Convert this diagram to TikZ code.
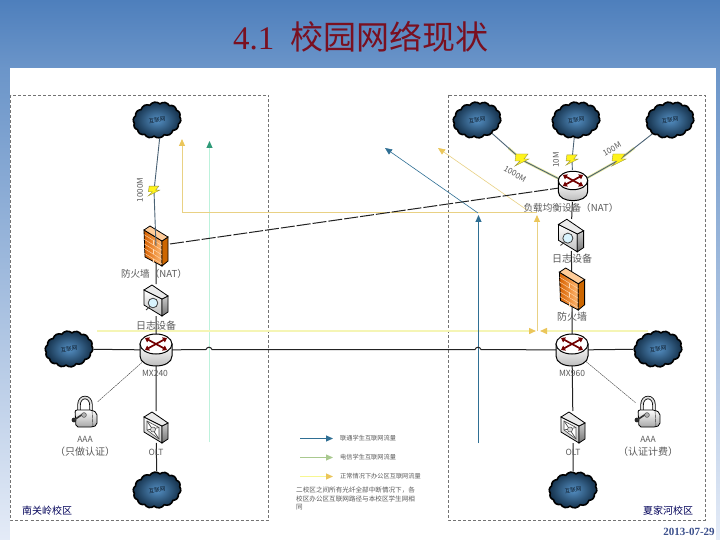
\documentclass[tikz,border=0pt]{standalone}
\usepackage{fontspec}
\newfontfamily\cjk{Noto Sans CJK SC}
\newfontfamily\cjkserif{Liberation Serif}
\usetikzlibrary{shapes.symbols,arrows.meta,calc}
\pgfdeclarelayer{bg}
\pgfsetlayers{bg,main}
\definecolor{lineblue}{HTML}{2F6F94}
\definecolor{linegold}{HTML}{E9D184}
\definecolor{arrowgold}{HTML}{EBC65A}
\definecolor{palemint}{HTML}{BDF2DC}
\definecolor{arrowgreen}{HTML}{2F9A78}
\definecolor{paleyellow}{HTML}{F5F5B5}
\definecolor{labelgray}{HTML}{5A5A5A}
\definecolor{wire}{HTML}{222222}
\definecolor{cloudin}{HTML}{5590C4}
\definecolor{cloudout}{HTML}{14304A}
\definecolor{cloudtext}{HTML}{0C1A28}
\definecolor{slidetop}{HTML}{4E7FBC}
\definecolor{slidemid}{HTML}{6B95C9}
\definecolor{slidelow}{HTML}{E4EBF7}
\definecolor{titlered}{HTML}{7A1020}
\definecolor{datecol}{HTML}{3C508C}
\definecolor{radiocol}{HTML}{4A6275}
\definecolor{glowcol}{HTML}{E8E89A}
\definecolor{legendgreen}{HTML}{A9C98F}
\tikzset{
  x=1pt,y=-1pt,
  iconbox/.style={inner sep=0pt,outer sep=0pt,minimum width=28pt,minimum height=32pt},
  netcloud/.style={shape=cloud,cloud puffs=14,cloud puff arc=100,aspect=1.5,draw=black,line width=1.6pt,
    inner sep=0pt,minimum width=48pt,minimum height=36pt,rotate=8,
    inner color=cloudin,outer color=cloudout,text=cloudtext,font=\cjk\fontsize{5.5}{6}\selectfont},
  lbl/.style={inner sep=0pt,text=labelgray,font=\cjk\fontsize{10}{12}\selectfont},
  smalllbl/.style={inner sep=0pt,text=labelgray,font=\cjk\fontsize{8.5}{10}\selectfont},
  linklbl/.style={inner sep=0pt,text=labelgray,font=\cjk\fontsize{8}{10}\selectfont},
  legendlbl/.style={inner sep=0pt,anchor=west,text=labelgray,font=\cjk\fontsize{6.2}{8}\selectfont},
  campus/.style={inner sep=0pt,text=blue!35!black,font=\cjk\fontsize{10}{12}\selectfont},
  wireline/.style={draw=wire,line width=1pt},
  thinwire/.style={draw=black!75,line width=0.4pt,dash pattern=on 2pt off 0.6pt},
  radiolink/.style={draw=radiocol,line width=0.9pt},
  radioglow/.style={draw=glowcol,line width=2.4pt},
  wantip/.style={wireline,dash pattern=on 14pt off 2pt},
  flowblue/.style={draw=lineblue,line width=0.9pt,-{Triangle[length=7pt,width=6pt]}},
  flowgold/.style={draw=linegold,line width=1pt,-{Triangle[length=7pt,width=6pt,color=arrowgold]}},
  flowmint/.style={draw=palemint,line width=1pt,-{Triangle[length=7pt,width=6pt,color=arrowgreen]}},
  flowpale/.style={draw=paleyellow,line width=1.4pt,-{Triangle[length=7pt,width=6pt,color=arrowgold]}},
  campusbox/.style={draw=black!55,line width=0.4pt,densely dashed},
}
\newcommand{\routericon}[4]{%
  \node[iconbox] (#1) at (#2,#3) {};
  \begin{scope}[shift={(#2,#3)},scale=#4]
    \path[draw=black,line width=1pt,top color=white,bottom color=black!30]
      (-16,-6) -- (-16,6) .. controls (-16,19.3) and (16,19.3) .. (16,6) -- (16,-6) -- cycle;
    \path[draw=black,line width=1pt,fill=white] (0,-6) ellipse (16 and 10);
    \foreach \ex/\ey in {-11/-12,11/-12,-11/0,11/0}
      \draw[draw=red!45!black,line width=1.7pt,-{Triangle[length=4pt,width=5.5pt]}] (0,-6) -- (\ex,\ey);
  \end{scope}}
\newcommand{\wallicon}[4]{%
  \node[iconbox] (#1) at (#2,#3) {};
  \begin{scope}[shift={(#2,#3)},scale=#4]
    \path[draw=black,line width=0.8pt,left color=orange!90!red!85!black,right color=orange!55!white]
      (-12,-16) -- (6,-5) -- (6,20) -- (-11,11) -- cycle;
    \path[draw=black,line width=0.8pt,fill=orange!80!black] (6,-5) -- (12,-9) -- (12,15) -- (6,20) -- cycle;
    \path[draw=black,line width=0.8pt,fill=orange!40!white] (-12,-16) -- (-6,-20) -- (12,-9) -- (6,-5) -- cycle;
    \foreach \k in {1,...,5}
      \draw[orange!30!white,line width=0.4pt] (-12,{-16+\k*4.6}) -- (6,{-5+\k*4.6});
    \foreach \k in {1,3,5}
      \draw[orange!30!white,line width=0.4pt] (-3,{-10.5+\k*4.6}) -- (-3,{-6+\k*4.6});
  \end{scope}}
\newcommand{\boxbody}{%
    \path[draw=black,line width=0.8pt,top color=white,bottom color=black!25] (-12,-10) -- (6,-1) -- (6,16) -- (-12,5) -- cycle;
    \path[draw=black,line width=0.8pt,top color=black!20,bottom color=black!55] (6,-1) -- (12,-4) -- (12,12) -- (6,16) -- cycle;
    \path[draw=black,line width=0.8pt,fill=black!8] (-12,-10) -- (-4,-15) -- (12,-4) -- (6,-1) -- cycle;}
\newcommand{\logicon}[4]{%
  \node[iconbox] (#1) at (#2,#3) {};
  \begin{scope}[shift={(#2,#3)},scale=#4]
    \boxbody
    \path[draw=black!75,line width=0.8pt,fill=cyan!15] (-3,3) circle (4.8);
    \draw[black!75,line width=0.9pt] (-6.5,7) -- (-10,10);
  \end{scope}}
\newcommand{\olticon}[4]{%
  \node[iconbox] (#1) at (#2,#3) {};
  \begin{scope}[shift={(#2,#3)},scale=#4]
    \boxbody
    \path[draw=black!70,line width=0.6pt,fill=white] (-9,-6) -- (3,0.5) -- (3,12) -- (-9,3) -- cycle;
    \draw[black!70,line width=0.7pt] (-9,-6) -- (3,12) (3,0.5) -- (-9,3);
    \path[draw=black!70,line width=0.5pt,fill=black!15] (-3,2.5) circle (2.5);
  \end{scope}}
\newcommand{\lockicon}[3]{%
  \node[iconbox,minimum width=25pt] (#1) at (#2,#3) {};
  \begin{scope}[shift={(#2,#3)}]
    \draw[black,line width=3.4pt] (-6,-1) -- (-6,-8) .. controls (-6,-18) and (6,-18) .. (6,-8) -- (6,-1);
    \draw[black!12,line width=1.8pt] (-6,-1) -- (-6,-8) .. controls (-6,-18) and (6,-18) .. (6,-8) -- (6,-1);
    \path[draw=black,line width=0.8pt,top color=white,bottom color=black!35,rounded corners=2pt]
      (-10,-3) -- (7,-3) -- (12,0) -- (12,12) -- (8,14) -- (-9,14) -- cycle;
    \draw[black!80,line width=0.4pt] (7,-3) -- (8,14);
    \path[fill=black!85] (-11,7) circle (2.4);
    \draw[black!80,line width=1.6pt] (-11,7) -- (-2,1);
    \path[draw=black!70,line width=0.5pt,fill=black!30] (-1,2) circle (2.4);
  \end{scope}}
\newcommand{\bolticon}[4]{%
  \coordinate (#1) at (#2,#3);
  \begin{scope}[shift={(#2,#3)},scale=#4]
    \path[draw=yellow!55!black,line width=0.4pt,fill=yellow!90!white]
      (-6,-6) -- (6,-6) -- (2,-1) -- (7,-1) -- (-7,6) -- (-2,1) -- (-7,1) -- cycle;
  \end{scope}}
\begin{document}
\begin{tikzpicture}
\useasboundingbox (0,0) rectangle (720,540);
% devices and clouds
\node[netcloud] (cTop) at (157,120) {互联网};
\node[netcloud] (cWest) at (69,349) {互联网};
\node[netcloud] (cSouthW) at (157,490) {互联网};
\node[netcloud] (cA) at (477,120) {互联网};
\node[netcloud] (cB) at (576,120) {互联网};
\node[netcloud] (cC) at (670,120) {互联网};
\node[netcloud] (cEast) at (658,349) {互联网};
\node[netcloud] (cSouthE) at (573,490) {互联网};
\wallicon{fwL}{156}{246}{1}
\logicon{logL}{156}{300}{1}
\routericon{rL}{156}{350}{1}
\olticon{oltL}{156}{427}{1}
\lockicon{aaaL}{85}{413}
\routericon{rLB}{573}{186}{0.92}
\logicon{logR}{571}{235}{1.05}
\wallicon{fwR}{572}{289}{1.05}
\routericon{rR}{572}{350}{1}
\olticon{oltR}{573}{427}{1}
\lockicon{aaaR}{648}{413}
\bolticon{bA}{522}{160}{1}
\bolticon{bB}{572}{160}{0.85}
\bolticon{bC}{619}{160}{1}
\coordinate (goldA) at (182,213);
\coordinate (goldCorner) at (537,213);
\coordinate (goldTip) at (182,139);
\coordinate (goldDiagA) at (527,210);
\coordinate (goldDiagTip) at (438,148);
\coordinate (goldUpFoot) at (537,331);
\coordinate (goldUpTip) at (537,215);
\coordinate (mintFoot) at (209.5,442);
\coordinate (mintTip) at (209.5,141);
\coordinate (blueFoot) at (478.5,443);
\coordinate (blueTip) at (478.5,215);
\coordinate (blueDiagA) at (478,213);
\coordinate (blueDiagTip) at (385,148);
\coordinate (paleL) at (97,331);
\coordinate (paleR) at (648,331);
\coordinate (paleTipL) at (536,331);
\coordinate (paleTipR) at (540,331);
\coordinate (legA1) at (300,438.5);\coordinate (legA2) at (333,438.5);
\coordinate (legB1) at (300,457.5);\coordinate (legB2) at (333,457.5);
\coordinate (legC1) at (300,476.5);\coordinate (legC2) at (333,476.5);
\begin{pgfonlayer}{bg}
  % slide background
  \path[top color=slidemid,bottom color=slidelow] (0,68) rectangle (720,540);
  \path[top color=slidetop,bottom color=slidemid] (0,0) rectangle (720,68);
  \path[fill=white] (10,68) rectangle (716,540);
  \path[campusbox] (10.5,95) rectangle (268,520);
  \path[campusbox] (448,95) rectangle (705,520);
  % traffic flows
  \draw[flowmint] (mintFoot) -- (mintTip);
  \draw[flowpale] (paleL) -- (paleTipL);
  \draw[flowpale] (paleR) -- (paleTipR);
  \draw[flowgold] (goldA) -- (goldTip);
  \draw[draw=linegold,line width=1pt] (goldA) -- (goldCorner);
  \draw[flowgold] (goldUpFoot) -- (goldUpTip);
  \draw[flowgold,line width=0.6pt] (goldDiagA) -- (goldDiagTip);
  \draw[flowblue] (blueFoot) -- (blueTip);
  \draw[flowblue,line width=0.6pt] (blueDiagA) -- (blueDiagTip);
  % legend
  \draw[flowblue] (legA1) -- (legA2);
  \draw[draw=legendgreen,line width=0.8pt,-{Triangle[length=7pt,width=6pt]}] (legB1) -- (legB2);
  \draw[draw=paleyellow!80!yellow,line width=1pt,-{Triangle[length=7pt,width=6pt,color=arrowgold]}] (legC1) -- (legC2);
  % wired links
  \draw[wireline] (fwL) -- (logL) -- (rL) -- (oltL) -- (cSouthW);
  \draw[wireline] (cWest) -- (rL);
  \draw[wireline] (rL) -- (206,349.5) .. controls (207,346.5) and (211,346.5) .. (212,349.5) -- (475,349.5) .. controls (476,346.5) and (480,346.5) .. (481,349.5) -- (rR);
  \draw[wantip] (fwL) -- (rLB);
  \draw[wireline] (rLB) -- (logR) -- (fwR) -- (rR) -- (oltR) -- (cSouthE);
  \draw[wireline] (rR) -- (cEast);
  \draw[thinwire] (rL) -- (aaaL);
  \draw[thinwire] (rR) -- (aaaR);
  % radio links
  \draw[radioglow] ($(cA)!0.7!(bA)$) -- (bA) -- ($(bA)!0.75!(rLB)$);
  \draw[radioglow] ($(cC)!0.7!(bC)$) -- (bC) -- ($(bC)!0.75!(rLB)$);
  \draw[radiolink] (cA) -- (bA) -- (rLB);
  \draw[radiolink] (cB) -- (bB) -- (rLB);
  \draw[radiolink] (cC) -- (bC) -- (rLB);
\end{pgfonlayer}
\coordinate (bTop) at (154,191);
\draw[radiolink] (cTop.south) -- (bTop) -- (fwL.center);
\bolticon{bTopFront}{154}{191}{0.8}
% title
\node[inner sep=0pt,text=titlered,font=\fontsize{33}{36}\selectfont] (title) at (361,37) {\cjkserif 4.1\ \ \cjk 校园网络现状};
% labels
\node[linklbl,rotate=90] (l1000a) at (140,190) {1000M};
\node[lbl,font=\cjk\fontsize{9.6}{12}\selectfont] (lFwL) at (154,274) {防火墙（NAT）};
\node[lbl] (lLogL) at (156,326) {日志设备};
\node[smalllbl] (lMxL) at (155,373) {MX240};
\node[smalllbl] (lAaaL) at (85,439) {AAA};
\node[lbl] (lAaaL2) at (85,452) {（只做认证）};
\node[smalllbl] (lOltL) at (156,452) {OLT};
\node[campus] (lCampusL) at (47,511) {南关岭校区};
\node[linklbl,rotate=-30] (l1000b) at (515,174) {1000M};
\node[linklbl,rotate=90] (l100b) at (556,160) {10M};
\node[linklbl,rotate=30] (l100c) at (612,149) {100M};
\node[lbl,font=\cjk\fontsize{9.6}{12}\selectfont] (lBal) at (571,208) {负载均衡设备（NAT）};
\node[lbl] (lLogR) at (572,259) {日志设备};
\node[lbl] (lFwR) at (572,317) {防火墙};
\node[smalllbl] (lMxR) at (572,373) {MX960};
\node[smalllbl] (lOltR) at (573,452) {OLT};
\node[smalllbl] (lAaaR) at (648,439) {AAA};
\node[lbl] (lAaaR2) at (648,452) {（认证计费）};
\node[campus] (lCampusR) at (668,511) {夏家河校区};
\node[inner sep=0pt,text=datecol,font=\cjkserif\bfseries\fontsize{11}{12}\selectfont] (date) at (689,532) {2013-07-29};
\node[legendlbl] (legA) at (340,438) {联通学生互联网流量};
\node[legendlbl] (legB) at (340,457) {电信学生互联网流量};
\node[legendlbl] (legC) at (340,476) {正常情况下办公区互联网流量};
\node[inner sep=0pt,anchor=north west,text=labelgray,align=left,font=\cjk\fontsize{6.6}{8.2}\selectfont] (note) at (296,487) {二校区之间所有光纤全部中断情况下，各\\校区办公区互联网路径与本校区学生网相\\同};
\end{tikzpicture}
\end{document}
